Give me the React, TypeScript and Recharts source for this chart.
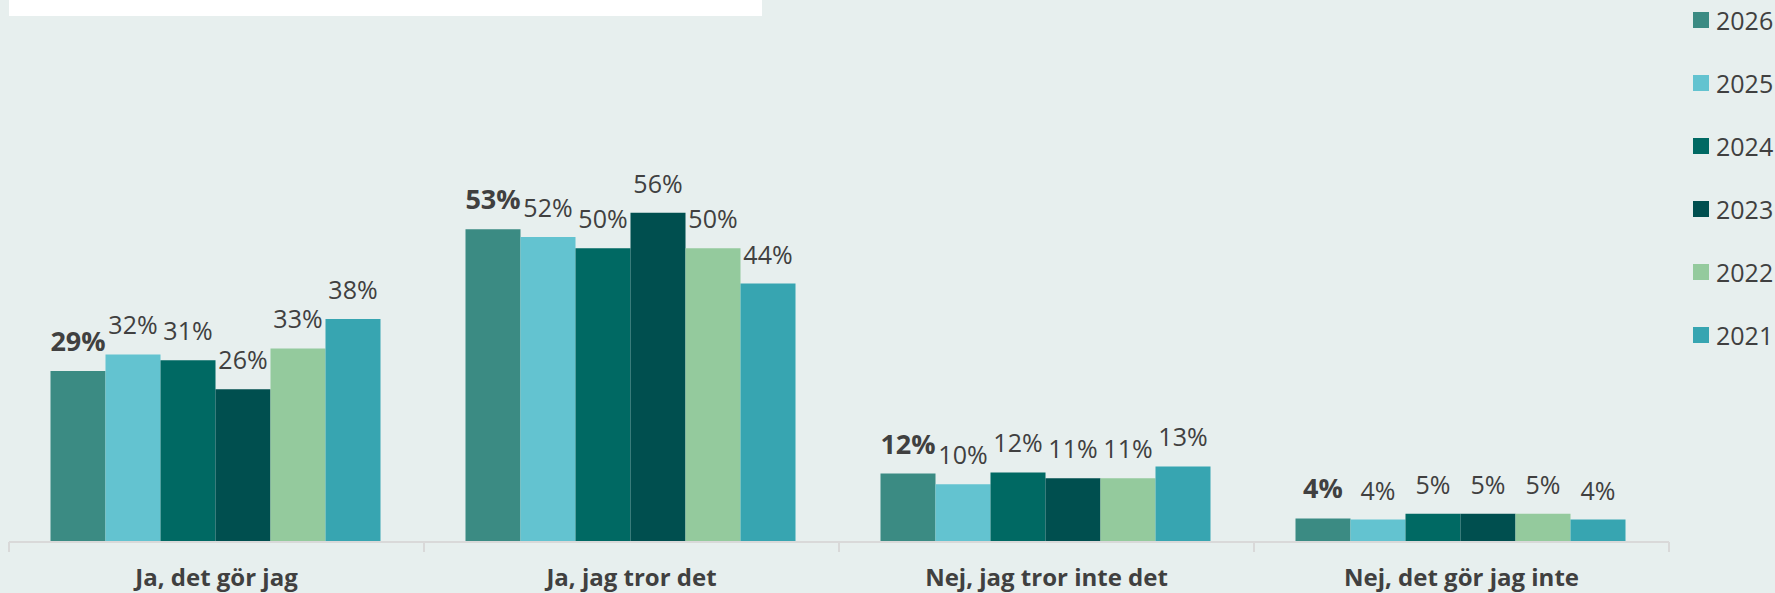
import React from 'react';
import { BarChart, Bar, XAxis, YAxis, Legend, LabelList } from 'recharts';

const categories = ['Ja, det gör jag', 'Ja, jag tror det', 'Nej, jag tror inte det', 'Nej, det gör jag inte'];
const years = ['2026', '2025', '2024', '2023', '2022', '2021'];
const values2026 = [29.0, 53.0, 11.6, 4.0];
const values2025 = [31.8, 51.7, 9.8, 3.8];
const values2024 = [30.8, 49.8, 11.8, 4.8];
const values2023 = [25.9, 55.8, 10.8, 4.8];
const values2022 = [32.8, 49.8, 10.8, 4.8];
const values2021 = [37.8, 43.8, 12.8, 3.8];
const seriesValues = [values2026, values2025, values2024, values2023, values2022, values2021];
const colors = ['#3b8b83', '#63c3d0', '#006963', '#004f4f', '#94ca9d', '#37a5b1'];

const data = categories.map((name, i) => {
  const row: Record<string, string | number> = { name };
  years.forEach((y, k) => {
    row[y] = seriesValues[k][i];
  });
  return row;
});

const FONT = '"Open Sans", sans-serif';
const TEXT = '#404040';
const W = 1775;
const H = 593;
const PLOT_LEFT = 9;
const PLOT_RIGHT = 1669;
const BAND_HALF = (PLOT_RIGHT - PLOT_LEFT) / categories.length / 2;

const CategoryTick = (props: any) => {
  const { x, y, payload, index } = props;
  return (
    <g>
      <line x1={x - BAND_HALF} x2={x - BAND_HALF} y1={y} y2={y + 10} stroke="#d9d9d9" strokeWidth={2} />
      {index === categories.length - 1 && (
        <line x1={x + BAND_HALF} x2={x + BAND_HALF} y1={y} y2={y + 10} stroke="#d9d9d9" strokeWidth={2} />
      )}
      <text x={x} y={y + 44} textAnchor="middle" fontFamily={FONT} fontWeight={700} fontSize={24} fill={TEXT}>
        {payload.value}
      </text>
    </g>
  );
};

const makeLabel = (bold: boolean) => (props: any) => {
  const { x, y, width, value } = props;
  return (
    <text
      x={Number(x) + Number(width) / 2}
      y={Number(y) - 20}
      textAnchor="middle"
      fontFamily={FONT}
      fontWeight={bold ? 700 : 400}
      fontSize={bold ? 27 : 25}
      fill={TEXT}
    >
      {Math.round(Number(value))}%
    </text>
  );
};

const renderLegend = () => {
  return (
    <div>
      {years.map((y, i) => (
        <div key={y} style={{ display: 'flex', alignItems: 'center', height: 63 }}>
          <span style={{ display: 'inline-block', width: 16, height: 16, background: colors[i], marginRight: 7 }} />
          <span style={{ fontFamily: FONT, fontSize: 25, color: TEXT, lineHeight: '25px' }}>{y}</span>
        </div>
      ))}
    </div>
  );
};

export default function App() {
  return (
    <div style={{ position: 'absolute', left: 0, top: 0, width: W, height: H, background: '#e7efee', overflow: 'hidden' }}>
      <div style={{ position: 'absolute', left: 9, top: 0, width: 753, height: 16, background: '#ffffff' }} />
      <BarChart
        width={W}
        height={H}
        data={data}
        margin={{ top: 188, right: W - PLOT_RIGHT, left: PLOT_LEFT, bottom: 0 }}
        barCategoryGap="10%"
        barGap={0}
      >
        <XAxis
          dataKey="name"
          height={51}
          interval={0}
          tickLine={false}
          tickSize={0}
          tickMargin={0}
          axisLine={{ stroke: '#d9d9d9', strokeWidth: 2 }}
          tick={<CategoryTick />}
        />
        <YAxis hide domain={[0, 60]} />
        <Legend
          layout="vertical"
          verticalAlign="middle"
          align="center"
          content={renderLegend}
          wrapperStyle={{ position: 'absolute', left: 1693, top: -11.5, width: 82 }}
        />
        {years.map((y, k) => (
          <Bar key={y} dataKey={y} name={y} fill={colors[k]} isAnimationActive={false}>
            <LabelList dataKey={y} content={makeLabel(k === 0)} />
          </Bar>
        ))}
      </BarChart>
    </div>
  );
}
